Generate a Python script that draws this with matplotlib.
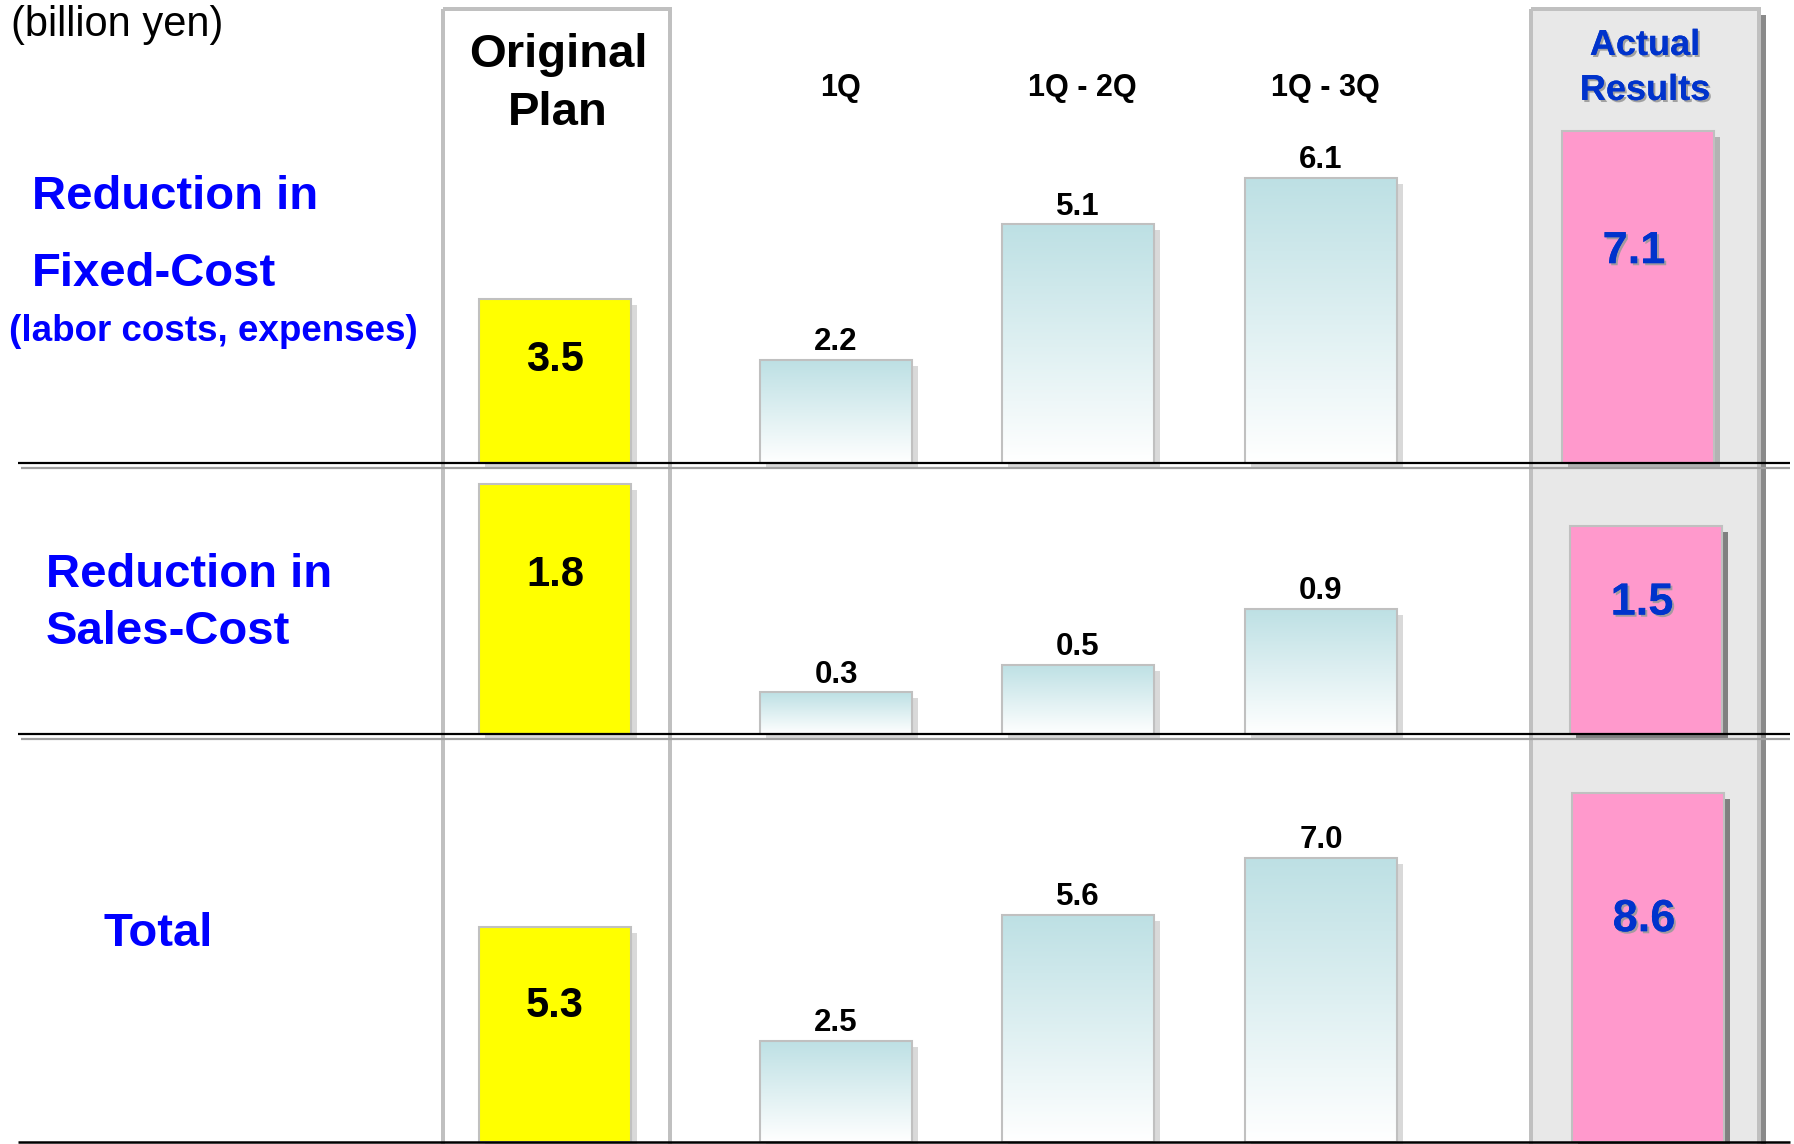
import numpy as np
import matplotlib
matplotlib.use('Agg')
import matplotlib.pyplot as plt
from matplotlib.patches import Rectangle
from matplotlib.colors import LinearSegmentedColormap
from matplotlib import transforms as mtransforms
import matplotlib.patheffects as pe

# ---------------- data ----------------
periods = ['1Q', '1Q - 2Q', '1Q - 3Q']
row_titles = [['Reduction in', 'Fixed-Cost'], ['Reduction in', 'Sales-Cost'], ['Total']]
row_subtitle = '(labor costs, expenses)'
unit_label = '(billion yen)'
plan_header = ['Original', 'Plan']
actual_header = ['Actual', 'Results']
plan_values = [3.5, 1.8, 5.3]
quarter_values = [[2.2, 5.1, 6.1], [0.3, 0.5, 0.9], [2.5, 5.6, 7.0]]
actual_values = [7.1, 1.5, 8.6]

# ---------------- layout (pixels) ----------------
W, H = 1794, 1144
DPI = 100
FONT = 'Liberation Sans'
plan_x = 555
quarter_x = [836, 1078, 1321]
actual_x = [1638, 1646, 1648]
bar_w = 152
# baseline px, top px, px per unit
rows = [(463, 0, 46.8), (734, 470, 139.0), (1142, 741, 40.6)]

BLUE = '#0000ff'
DKBLUE = '#0033cc'


def pt(px):
    return px * 72 / DPI


fig = plt.figure(figsize=(W / DPI, H / DPI), dpi=DPI)
fig.patch.set_facecolor('white')

bg = fig.add_axes([0, 0, 1, 1])
bg.set_xlim(0, W)
bg.set_ylim(H, 0)
bg.axis('off')
bg.set_zorder(0)
bg.add_patch(Rectangle((1531, 9), 228, 1145, facecolor='#e8e8e8', edgecolor='none'))

cmap = LinearSegmentedColormap.from_list('tealfade', ['#ffffff', '#bde0e4'])
grad = np.linspace(0, 1, 256).reshape(-1, 1)
actual_shadow = ['#b3b3b3', '#808080', '#808080']
txt_shadow = [pe.withSimplePatchShadow(offset=(1.5, -1.5), shadow_rgbFace='#9a9a9a', alpha=0.9), pe.Normal()]

for i, (base, top, ppu) in enumerate(rows):
    ax = fig.add_axes([0, 1 - base / H, 1, (base - top) / H])
    ax.set_zorder(2)
    ax.patch.set_visible(False)
    ax.axis('off')
    sh = mtransforms.offset_copy(ax.transData, fig=fig, x=6, y=-6, units='dots')

    # plan bar
    ax.bar([plan_x], [plan_values[i]], width=bar_w, color='#d9d9d9', transform=sh,
           clip_on=False, zorder=1, linewidth=0)
    ax.bar([plan_x], [plan_values[i]], width=bar_w, color='#ffff00', edgecolor='#c0c0c0',
           linewidth=1.5, zorder=4, clip_on=False)
    ax.annotate(f'{plan_values[i]:.1f}', xy=(plan_x, 0.65 * plan_values[i]),
                xytext=(0, -0.358 * 30), textcoords='offset points', ha='center',
                va='baseline', fontsize=30, fontweight='bold', family=FONT,
                color='black', annotation_clip=False, zorder=6)

    # quarter bars
    for x, v in zip(quarter_x, quarter_values[i]):
        ax.bar([x], [v], width=bar_w, color='#d9d9d9', transform=sh, clip_on=False,
               zorder=1, linewidth=0)
        b = ax.bar([x], [v], width=bar_w, facecolor='none', edgecolor='#c0c0c0',
                   linewidth=1.5, zorder=4, clip_on=False)[0]
        im = ax.imshow(grad, extent=[x - bar_w / 2, x + bar_w / 2, 0, v], origin='lower',
                       aspect='auto', cmap=cmap, zorder=3, interpolation='bilinear')
        im.set_clip_path(b)
        ax.annotate(f'{v:.1f}', xy=(x, v), xytext=(0, 7), textcoords='offset points',
                    ha='center', va='baseline', fontsize=22.5, fontweight='bold',
                    family=FONT, color='black', annotation_clip=False, zorder=6)

    # actual bar
    ax_x = actual_x[i]
    ax.bar([ax_x], [actual_values[i]], width=bar_w, color=actual_shadow[i], transform=sh,
           clip_on=False, zorder=1, linewidth=0)
    ax.bar([ax_x], [actual_values[i]], width=bar_w, color='#ff99cc', edgecolor='#c0c0c0',
           linewidth=1.5, zorder=4, clip_on=False)
    ax.annotate(f'{actual_values[i]:.1f}', xy=(ax_x - 4, 0.65 * actual_values[i]),
                xytext=(0, -0.358 * 32.5), textcoords='offset points', ha='center',
                va='baseline', fontsize=32.5, fontweight='bold', family=FONT,
                color=DKBLUE, annotation_clip=False, zorder=6, path_effects=txt_shadow)

    ax.set_xlim(0, W)
    ax.set_ylim(0, (base - top) / ppu)

# ---------------- overlay: frames, lines, texts ----------------
ov = fig.add_axes([0, 0, 1, 1])
ov.set_xlim(0, W)
ov.set_ylim(H, 0)
ov.axis('off')
ov.set_zorder(5)
ov.patch.set_visible(False)

ov.add_patch(Rectangle((1761, 15), 5, 1145, facecolor='#8a8a8a', edgecolor='none'))
ov.add_patch(Rectangle((443, 9), 227, 1145, fill=False, edgecolor='#c0c0c0', linewidth=pt(4)))
ov.add_patch(Rectangle((1531, 9), 228, 1145, fill=False, edgecolor='#c0c0c0', linewidth=pt(4)))
for y in [463, 734]:
    ov.plot([18, 1790], [y, y], color='black', lw=pt(2.2), solid_capstyle='butt')
    ov.plot([21, 1790], [y + 5, y + 5], color='#a0a0a0', lw=pt(2.2), solid_capstyle='butt')
ov.plot([18, 1790], [1142, 1142], color='black', lw=pt(2.5), solid_capstyle='butt')


def label(x, yc, s, size, color='black', ha='left', weight='bold', kind='cap', effects=None):
    em = size * DPI / 72
    base = yc + (0.358 if kind == 'cap' else 0.26) * em
    ov.text(x, base, s, fontsize=size, color=color, ha=ha, va='baseline',
            fontweight=weight, family=FONT, path_effects=effects)


label(11, 25, unit_label, 30, weight='normal', kind='paren')
label(558, 50, plan_header[0], 34, ha='center')
label(558, 108, plan_header[1], 34, ha='center')
label(1645, 42, actual_header[0], 26, color=DKBLUE, ha='center', effects=txt_shadow)
label(1645, 87, actual_header[1], 26, color=DKBLUE, ha='center', effects=txt_shadow)
for x, p in zip(quarter_x, periods):
    label(x + 4, 85, p, 22, ha='center')

label(32, 192, row_titles[0][0], 34, color=BLUE)
label(32, 269, row_titles[0][1], 34, color=BLUE)
label(9, 331, row_subtitle, 26.5, color=BLUE, kind='paren')
label(46, 570, row_titles[1][0], 34, color=BLUE)
label(46, 627, row_titles[1][1], 34, color=BLUE)
label(103, 929, row_titles[2][0], 34, color=BLUE)

fig.savefig('out.png', dpi=DPI, facecolor='white')
